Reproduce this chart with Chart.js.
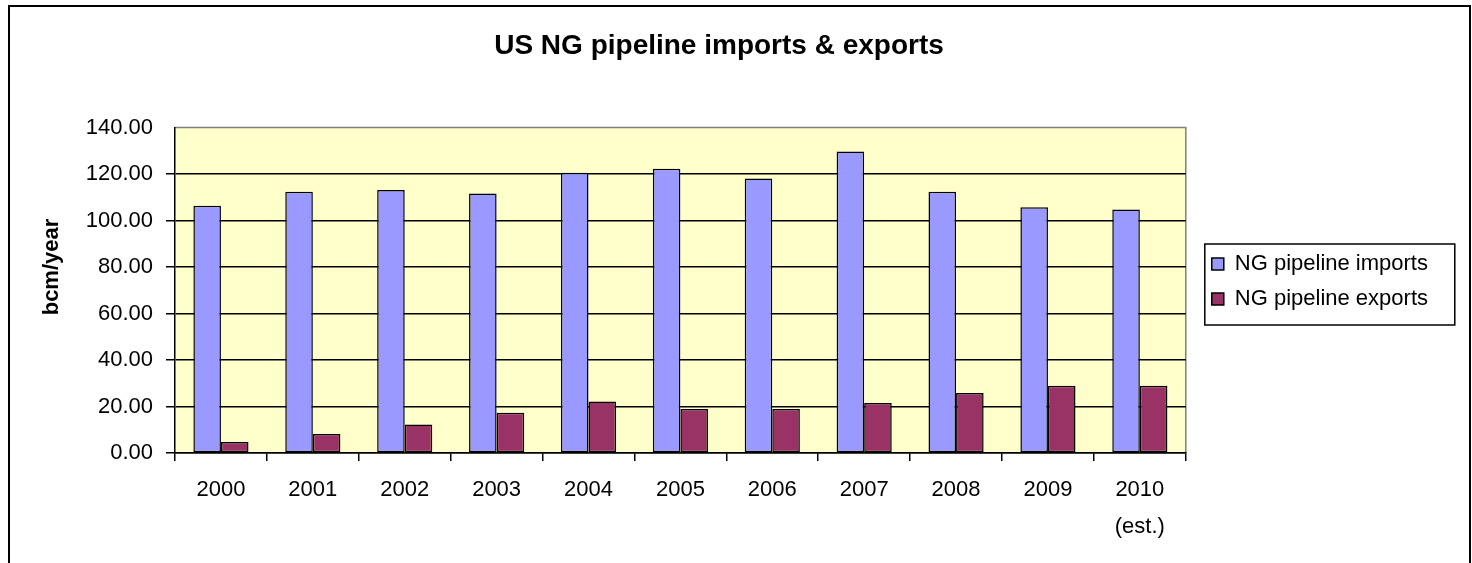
<!DOCTYPE html>
<html>
<head>
<meta charset="utf-8">
<script src="https://cdn.jsdelivr.net/npm/chart.js@4.4.1/dist/chart.umd.min.js"></script>
<style>
	html, body { margin: 0; padding: 0; background: #fff; overflow: hidden; }
	#frame { position: absolute; left: 8px; top: 5px; width: 1459px; height: 620px; border: 2px solid #000; }
	#myChart { position: absolute; left: 0; top: 0; }
</style>
</head>
<body>
<div id="frame"></div>
<canvas id="myChart" width="1472" height="563"></canvas>
<script>
var years = ['2000', '2001', '2002', '2003', '2004', '2005', '2006', '2007', '2008', '2009', ['2010', '(est.)']];
var imports = [106.4, 112.4, 113.1, 111.6, 120.6, 122.3, 118.1, 129.7, 112.4, 105.7, 104.8];
var exports = [4.7, 8.2, 12.3, 17.3, 22.2, 18.9, 18.9, 21.5, 25.8, 28.9, 28.9];
var yTicks = [0, 20, 40, 60, 80, 100, 120, 140];
var yTitle = 'bcm/year';

Chart.defaults.font.family = "'Liberation Sans', Arial, sans-serif";
Chart.defaults.color = '#000';

// yellow plot area with grey frame, the y title and a box around the legend
var plotBg = {
	id: 'plotBg',
	beforeDraw: function(chart) {
		var a = chart.chartArea, c = chart.ctx;
		c.save();
		c.fillStyle = '#FFFFCC';
		c.fillRect(a.left, a.top, a.right - a.left, a.bottom - a.top);
		c.strokeStyle = '#808080';
		c.lineWidth = 1.5;
		c.beginPath();
		c.moveTo(a.left, a.top);
		c.lineTo(a.right, a.top);
		c.lineTo(a.right, a.bottom);
		c.stroke();
		c.restore();
	},
	afterDraw: function(chart) {
		var c = chart.ctx;
		c.save();
		c.translate(52, 267);
		c.rotate(-Math.PI / 2);
		c.font = "bold 22px 'Liberation Sans', Arial, sans-serif";
		c.fillStyle = '#000';
		c.textAlign = 'center';
		c.textBaseline = 'middle';
		c.fillText(yTitle, 0, 0);
		c.restore();

		var hb = chart.legend.legendHitBoxes;
		if (!hb || !hb.length) return;
		var first = hb[0], last = hb[hb.length - 1];
		var x0 = first.left - 7;
		var y0 = first.top + first.height / 2 - 20;
		var y1 = last.top + last.height / 2 + 26;
		c.save();
		c.strokeStyle = '#000';
		c.lineWidth = 1.5;
		c.strokeRect(x0, y0, 250, y1 - y0);
		c.restore();
	}
};

var ctx = document.getElementById('myChart');
var barGraph = new Chart(ctx, {
	type: 'bar',
	data: {
		labels: years,
		datasets: [
			{
				label: 'NG pipeline imports',
				backgroundColor: '#9999FF',
				borderColor: '#000',
				borderWidth: 1.5,
				borderSkipped: false,
				data: imports
			},
			{
				label: 'NG pipeline exports',
				backgroundColor: '#993366',
				borderColor: '#000',
				borderWidth: 1.5,
				borderSkipped: false,
				data: exports
			}
		]
	},
	options: {
		responsive: false,
		animation: false,
		categoryPercentage: 0.6,
		barPercentage: 1.0,
		layout: { padding: { left: 0, right: 34, top: 0, bottom: 0 } },
		plugins: {
			title: {
				display: true,
				text: 'US NG pipeline imports & exports',
				font: { size: 28, weight: 'bold' },
				padding: { top: 29, bottom: 65 }
			},
			legend: {
				position: 'right',
				maxWidth: 243,
				labels: {
					boxWidth: 12,
					boxHeight: 12,
					padding: 13,
					font: { size: 22 }
				}
			},
			tooltip: { enabled: false }
		},
		scales: {
			x: {
				grid: {
					offset: true,
					drawOnChartArea: false,
					color: '#000',
					lineWidth: 1.5,
					tickLength: 8
				},
				border: { color: '#000', width: 1.5 },
				ticks: {
					padding: 11,
					maxRotation: 0,
					font: { size: 22, lineHeight: 1.65 }
				},
				afterFit: function(s) { s.height = 110; }
			},
			y: {
				min: 0,
				max: 140,
				afterBuildTicks: function(s) {
					s.ticks = yTicks.map(function(v) { return { value: v }; });
				},
				grid: {
					color: function(c) { return c.tick && c.tick.value === 140 ? 'rgba(0,0,0,0)' : '#000'; },
					lineWidth: 1.5,
					tickLength: 9
				},
				border: { color: '#000', width: 1.5 },
				ticks: {
					padding: 13,
					font: { size: 22 },
					callback: function(v) { return Number(v).toFixed(2); }
				},
				afterFit: function(s) { s.width = 175; }
			},
			gap: {
				position: 'right',
				display: true,
				grid: { display: false },
				ticks: { display: false },
				border: { display: false },
				afterFit: function(s) { s.width = 13; }
			}
		}
	},
	plugins: [plotBg]
});
</script>
</body>
</html>
